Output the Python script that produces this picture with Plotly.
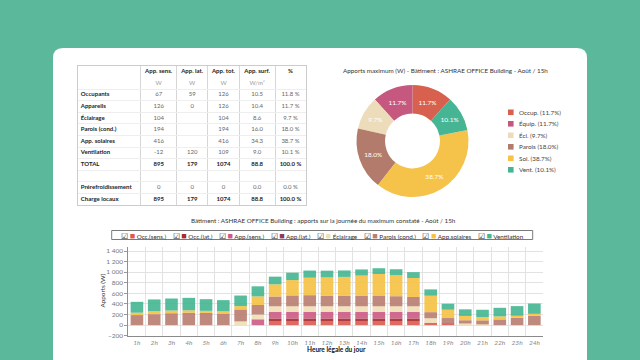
import plotly.graph_objects as go

W, H = 640, 360


def px(x, y):
    return x / W, 1 - y / H


# ---------------- data ----------------
hours = [f"{h}h" for h in range(1, 25)]
series_names = ["Occ.(sens.)", "Occ.(lat.)", "App.(sens.)", "App.(lat.)",
                "Éclairage", "Parois (cond.)", "App.solaires", "Ventilation"]
occ_sens = [0, 0, 0, 0, 0, 0, 0, 0, 67, 67, 67, 67, 67, 67, 67, 67, 67, 45, 40, 0, 0, 0, 0, 0]
occ_lat = [0, 0, 0, 0, 0, 0, 0, 0, 59, 59, 59, 59, 59, 59, 59, 59, 59, 0, 0, 0, 0, 0, 0, 0]
app_sens = [0, 0, 0, 0, 0, 0, 0, 110, 126, 126, 126, 126, 126, 126, 126, 126, 126, 0, 0, 0, 0, 0, 0, 0]
app_lat = [0] * 24
eclairage = [0, 0, 0, 0, 0, 0, 70, 90, 104, 104, 104, 104, 104, 104, 104, 104, 104, 85, 0, 30, 15, 0, 0, 0]
parois = [190, 207, 225, 235, 230, 220, 227, 180, 185, 205, 210, 195, 195, 195, 194, 190, 175, 115, 94, 62, 75, 108, 138, 175]
solaires = [45, 55, 50, 45, 40, 40, 62, 163, 230, 290, 330, 350, 360, 385, 416, 395, 360, 310, 157, 81, 62, 57, 38, 38]
ventilation = [205, 223, 228, 235, 220, 212, 200, 190, 145, 140, 135, 128, 122, 116, 109, 115, 110, 120, 113, 125, 138, 162, 183, 195]
series_values = [occ_sens, occ_lat, app_sens, app_lat, eclairage, parois, solaires, ventilation]
series_colors = ["#dc5a4e", "#a82a2c", "#cc5a85", "#8b3a5e", "#f0dfb6", "#b97e70", "#f7c244", "#43b692"]

pie_labels = ["Occup. (11.7%)", "Équip. (11.7%)", "Écl. (9.7%)", "Parois (18.0%)", "Sol. (38.7%)", "Vent. (10.1%)"]
pie_values = [126, 126, 104, 194, 416, 109]
pie_text = ["11.7%", "11.7%", "9.7%", "18.0%", "38.7%", "10.1%"]
pie_colors = ["#d8604e", "#c6587f", "#ecdcb9", "#b27b6b", "#f5c24a", "#45b593"]

table_header = ["", "App. sens.", "App. lat.", "App. tot.", "App. surf.", "%"]
table_units = ["", "W", "W", "W", "W/m²", ""]
row_labels = ["Occupants", "Appareils", "Éclairage", "Parois (cond.)", "App. solaires",
              "Ventilation", "TOTAL", "", "Prérefroidissement", "Charge locaux"]
col_app_sens = ["67", "126", "104", "194", "416", "-12", "895", "", "0", "895"]
col_app_lat = ["59", "0", "", "", "", "120", "179", "", "0", "179"]
col_app_tot = ["126", "126", "104", "194", "416", "109", "1074", "", "0", "1074"]
col_app_surf = ["10.5", "10.4", "8.6", "16.0", "34.3", "9.0", "88.8", "", "0.0", "88.8"]
col_pct = ["11.8 %", "11.7 %", "9.7 %", "18.0 %", "38.7 %", "10.1 %", "100.0 %", "", "0.0 %", "100.0 %"]
bold_rows = ["TOTAL", "Charge locaux"]

FONT = "Lato"
NB = "\u00a0"


def nb(s):
    return s.replace(" ", NB)


fig = go.Figure()

# ---------------- table (text drawn on its own axes) ----------------
col_widths = [62.4, 36, 31, 31.6, 35.7, 31]
bounds = [0]
for w in col_widths:
    bounds.append(bounds[-1] + w)
data_cols = [col_app_sens, col_app_lat, col_app_tot, col_app_surf, col_pct]
is_bold = [lbl in bold_rows for lbl in row_labels]
n_rows = 2 + len(row_labels)

tx_, ty_, tt_, tp_, tc_ = [], [], [], [], []
for j, lbl in enumerate(row_labels):
    if lbl:
        tx_.append(2.5); ty_.append(j + 2); tt_.append(f"<b>{nb(lbl)}</b>")
        tp_.append("middle right"); tc_.append("#222")
for c, (head, unit, col) in enumerate(zip(table_header[1:], table_units[1:], data_cols), start=1):
    xc = (bounds[c] + bounds[c + 1]) / 2
    tx_.append(xc); ty_.append(0); tt_.append(f"<b>{nb(head)}</b>"); tp_.append("middle center"); tc_.append("#222")
    if unit:
        tx_.append(xc); ty_.append(1); tt_.append(unit); tp_.append("middle center"); tc_.append("#9a9a9a")
    for j, (v, b) in enumerate(zip(col, is_bold)):
        if v:
            tx_.append(xc); ty_.append(j + 2)
            tt_.append(f"<b>{nb(v)}</b>" if b else nb(v))
            tp_.append("middle center"); tc_.append("#222" if b else "#666")

fig.add_trace(go.Scatter(x=tx_, y=ty_, text=tt_, mode="text", textposition=tp_,
                         textfont=dict(family=FONT, size=6, color=tc_),
                         xaxis="x2", yaxis="y2", hoverinfo="skip", showlegend=False))

# ---------------- pie ----------------
pcx, pcy, pr = 412.5, 141, 56
p0x, p0y = px(pcx - pr, pcy + pr)
p1x, p1y = px(pcx + pr, pcy - pr)
fig.add_trace(go.Pie(
    labels=pie_labels, values=pie_values, text=pie_text, textinfo="text",
    sort=False, direction="counterclockwise", rotation=0, hole=0.49,
    marker=dict(colors=pie_colors, line=dict(width=0)),
    textposition="inside", insidetextorientation="horizontal",
    textfont=dict(family=FONT, size=6.5, color="white"),
    domain=dict(x=[p0x, p1x], y=[p0y, p1y]),
))

# ---------------- bars ----------------
for name, vals, col in zip(series_names, series_values, series_colors):
    fig.add_trace(go.Bar(x=hours, y=vals, name=name, opacity=0.9,
                         marker=dict(color=col, line=dict(width=0))))

shapes = []
annotations = []

# white card
cx0, cx1, ctop, cbot, r = 53, 587, 48, 380, 10


def P(x, y):
    a, b = px(x, y)
    return f"{a:.5f},{b:.5f}"


card_path = (f"M {P(cx0 + r, ctop)} L {P(cx1 - r, ctop)} Q {P(cx1, ctop)} {P(cx1, ctop + r)} "
             f"L {P(cx1, cbot)} L {P(cx0, cbot)} L {P(cx0, ctop + r)} Q {P(cx0, ctop)} {P(cx0 + r, ctop)} Z")
shapes.append(dict(type="path", xref="paper", yref="paper", path=card_path,
                   fillcolor="white", line=dict(width=0), layer="below"))


def note(x, y, text, size=6.3, color="#333", xanchor="center", angle=0):
    a, b = px(x, y)
    annotations.append(dict(x=a, y=b, xref="paper", yref="paper", showarrow=False,
                            xanchor=xanchor, yanchor="middle", textangle=angle, text=text,
                            font=dict(family=FONT, size=size, color=color)))


# pie title
note(445, 70.7, "Apports maximum (W) - Bâtiment : ASHRAE OFFICE Building - Août / 15h")

# pie legend
for i, (lbl, col) in enumerate(zip(pie_labels, pie_colors)):
    yy = 112.3 + 11.5 * i
    a0, b0 = px(508, yy - 2.8)
    a1, b1 = px(513.6, yy + 2.8)
    shapes.append(dict(type="rect", xref="paper", yref="paper", x0=a0, x1=a1, y0=b1, y1=b0,
                       fillcolor=col, line=dict(width=0)))
    note(516.5, yy, lbl, color="#444", xanchor="left")

# bar chart title
note(323, 220.7, "Bâtiment : ASHRAE OFFICE Building : apports sur la journée du maximum constaté - Août / 15h")

# bar legend (checkbox + colour square + label)
lx0, ly0 = px(111.7, 230.5)
lx1, ly1 = px(532.7, 239.5)
shapes.append(dict(type="rect", xref="paper", yref="paper", x0=lx0, x1=lx1, y0=ly1, y1=ly0,
                   line=dict(color="#7a7a7a", width=1), fillcolor="white"))
parts = []
for name, col in zip(series_names, series_colors):
    parts.append(f"<span style='color:#333;font-size:7.5px'>☑</span>{NB}"
                 f"<span style='color:{col};font-size:9px'>■</span>{NB}{nb(name)}")
note(322, 235.2, (NB * 4).join(parts))

# axis titles
note(101.5, 291, "Apports (W)", angle=-90)
note(336, 349.5, "<b>Heure légale du jour</b>", size=6.5, color="#111")

xd0, _ = px(128.3, 0)
xd1, _ = px(543, 0)
_, yd0 = px(0, 335.7)
_, yd1 = px(0, 246.8)
tbx0, tby1 = px(78.3, 65.9)
tbx1, tby0 = px(78.3 + bounds[-1], 65.9 + 11.6 * n_rows)

fig.update_layout(
    width=W, height=H, margin=dict(l=0, r=0, t=0, b=0),
    paper_bgcolor="#5cb89b", plot_bgcolor="white",
    showlegend=False, barmode="relative", bargap=0.27,
    separators=". ",
    font=dict(family=FONT, size=6.5, color="#444"),
    shapes=shapes, annotations=annotations,
    xaxis=dict(domain=[xd0, xd1], type="category", tickson="boundaries", tickangle=0,
               showgrid=True, gridcolor="#e2e2e2", gridwidth=1,
               showline=True, linecolor="#8a8a8a", linewidth=1.3, ticks="",
               tickfont=dict(family=FONT, size=6.5, color="#888", style="italic"),
               automargin=False, fixedrange=True),
    yaxis=dict(domain=[yd0, yd1], range=[-200, 1480], tick0=0, dtick=200, tickformat=",d",
               showgrid=True, gridcolor="#e2e2e2", gridwidth=1, zeroline=False,
               showline=True, linecolor="#8f8f8f", linewidth=1, ticks="outside", ticklen=3,
               tickcolor="#999", tickfont=dict(family=FONT, size=6.5, color="#777"),
               automargin=False, fixedrange=True),
    xaxis2=dict(domain=[tbx0, tbx1], range=[0, bounds[-1]], tickvals=bounds[1:-1],
                showticklabels=False, ticks="", showgrid=True, gridcolor="#d6d6d6",
                zeroline=False, showline=True, mirror=True, linecolor="#cccccc",
                anchor="y2", automargin=False, fixedrange=True),
    yaxis2=dict(domain=[tby0, tby1], range=[n_rows - 0.5, -0.5],
                tickvals=[k + 0.5 for k in range(1, n_rows - 1)],
                showticklabels=False, ticks="", showgrid=True, gridcolor="#eeeeee",
                zeroline=False, showline=True, mirror=True, linecolor="#cccccc",
                anchor="x2", automargin=False, fixedrange=True),
)

fig.write_html("out.html")
